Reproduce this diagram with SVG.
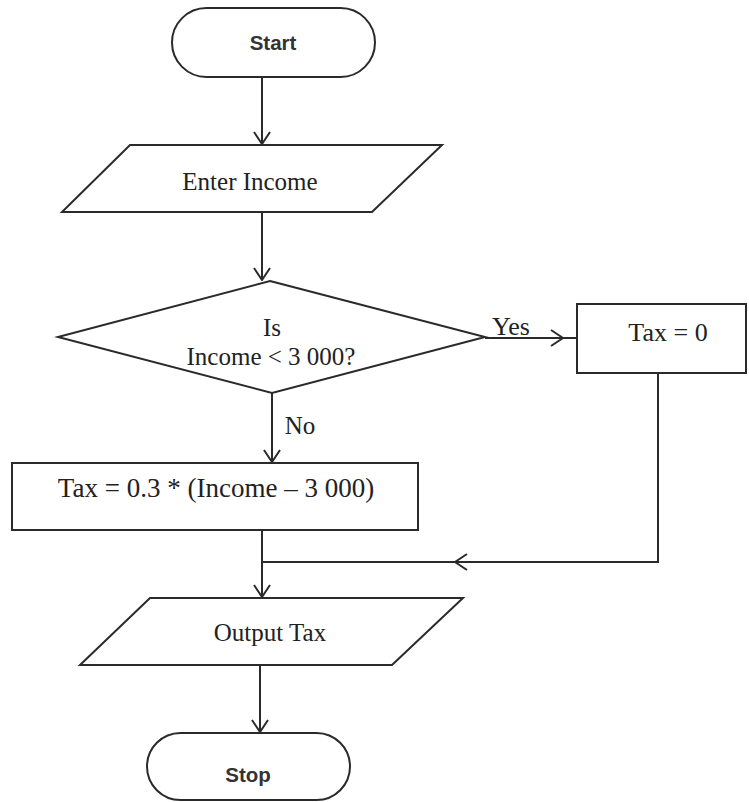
<svg xmlns="http://www.w3.org/2000/svg" width="749" height="802" viewBox="0 0 749 802">
<defs>
<style>
.shape{fill:#fff;stroke:#2a2a2a;stroke-width:2}
.conn{fill:none;stroke:#2a2a2a;stroke-width:2}
.t{font-family:"Liberation Serif","Times New Roman",serif;font-size:25px;fill:#222;text-anchor:middle}
.big{font-size:27px}
.mid{font-size:26px}
.ts{font-family:"Liberation Sans",Arial,sans-serif;font-size:20.5px;font-weight:bold;fill:#333;text-anchor:middle}
</style>
<marker id="arr" viewBox="0 0 14 18" refX="13" refY="9" markerWidth="14" markerHeight="18" markerUnits="userSpaceOnUse" orient="auto">
<path d="M1,1 L13,9 L1,17" fill="none" stroke="#2a2a2a" stroke-width="2"/>
</marker>
</defs>
<rect width="749" height="802" fill="#fff"/>
<g id="connectors">
<path class="conn" d="M262,77 V144" marker-end="url(#arr)"/>
<path class="conn" d="M262,212 V280" marker-end="url(#arr)"/>
<path class="conn" d="M485,338 H563" marker-end="url(#arr)"/>
<path class="conn" d="M563,338 H577"/>
<path class="conn" d="M272,393 V462" marker-end="url(#arr)"/>
<path class="conn" d="M658,373 V562 H455" marker-end="url(#arr)"/>
<path class="conn" d="M455,562 H262"/>
<path class="conn" d="M262,530 V597" marker-end="url(#arr)"/>
<path class="conn" d="M260,665 V732" marker-end="url(#arr)"/>
<text class="t mid" x="511" y="335">Yes</text>
<text class="t" x="300" y="434">No</text>
</g>
<g id="start">
<rect class="shape" x="172" y="8" width="203" height="69" rx="34.5"/>
<text class="ts" x="273" y="50">Start</text>
</g>
<g id="enter-income">
<polygon class="shape" points="130,145 442,145 372,212 62,212"/>
<text class="t" x="250" y="190">Enter Income</text>
</g>
<g id="decision">
<polygon class="shape" points="270,281 485,337 272,393 58,337"/>
<text class="t" x="272" y="336">Is</text>
<text class="t" x="271" y="365">Income &lt; 3 000?</text>
</g>
<g id="tax-zero">
<rect class="shape" x="577" y="304" width="169" height="69"/>
<text class="t mid" x="668" y="341">Tax = 0</text>
</g>
<g id="tax-calc">
<rect class="shape" x="12" y="463" width="406" height="67"/>
<text class="t big" x="216" y="497">Tax = 0.3 * (Income – 3 000)</text>
</g>
<g id="output-tax">
<polygon class="shape" points="150,598 463,598 392,665 80,665"/>
<text class="t" x="270" y="641">Output Tax</text>
</g>
<g id="stop">
<rect class="shape" x="147" y="733" width="203" height="67" rx="33.5"/>
<text class="ts" x="248" y="782">Stop</text>
</g>
</svg>
